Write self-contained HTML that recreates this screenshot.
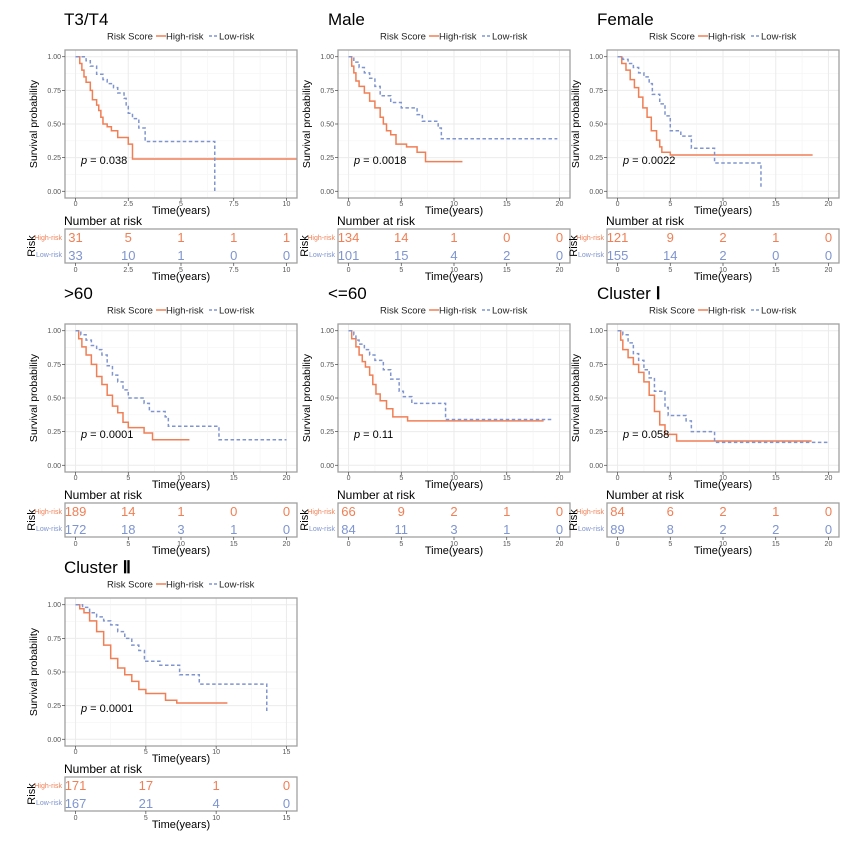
<!DOCTYPE html>
<html><head><meta charset="utf-8"><style>
body{margin:0;background:#fff}
svg{display:block;font-family:"Liberation Sans",sans-serif}
</style></head><body>
<svg id="fig" width="867" height="851" viewBox="0 0 867 851"></svg>
<script>
const panelTitles=["T3/T4","Male","Female",">60","<=60","Cluster \u2160","Cluster \u2161"];
const pValues=["0.038","0.0018","0.0022","0.0001","0.11","0.058","0.0001"];
const xMaxes=[10,20,20,20,20,20,15];
const xTicksList=[[0,2.5,5,7.5,10],[0,5,10,15,20],[0,5,10,15,20],[0,5,10,15,20],[0,5,10,15,20],[0,5,10,15,20],[0,5,10,15]];
const highCurves=[
[[0,1],[0.2,.95],[0.3,.9],[0.4,.85],[0.5,.81],[0.7,.75],[0.8,.68],[1,.64],[1.1,.6],[1.2,.55],[1.3,.5],[1.5,.48],[1.7,.45],[2,.4],[2.5,.35],[2.7,.24],[10.5,.24]],
[[0,1],[0.3,.93],[0.5,.88],[0.7,.82],[1,.78],[1.5,.73],[2,.67],[2.5,.62],[3,.55],[3.3,.5],[3.6,.45],[4,.42],[4.5,.35],[5.5,.33],[6.5,.29],[7.3,.22],[10.8,.22]],
[[0,1],[0.4,.95],[0.8,.9],[1.2,.83],[1.6,.77],[2,.7],[2.4,.62],[2.8,.55],[3.2,.45],[3.7,.38],[4,.33],[4.2,.29],[5,.27],[18.5,.27]],
[[0,1],[0.3,.94],[0.6,.88],[1,.82],[1.5,.75],[2,.66],[2.5,.6],[3,.52],[3.5,.44],[4,.39],[4.5,.32],[5,.28],[6.5,.24],[7.3,.19],[10.8,.19]],
[[0,1],[0.3,.94],[0.7,.88],[1,.82],[1.3,.77],[1.6,.73],[2,.67],[2.3,.6],[2.6,.53],[3,.48],[3.6,.42],[4.2,.36],[5.6,.33],[18.5,.33]],
[[0,1],[0.3,.93],[0.5,.86],[1,.8],[1.5,.75],[2,.69],[2.5,.62],[3,.52],[3.5,.4],[4,.3],[4.5,.23],[5.6,.18],[18.4,.18]],
[[0,1],[0.3,.97],[0.6,.94],[1,.88],[1.5,.8],[2,.7],[2.5,.6],[3,.53],[3.5,.48],[4,.43],[4.5,.37],[5,.34],[6.4,.29],[7.2,.27],[10.8,.27]]
];
const lowCurves=[
[[0,1],[0.5,.97],[0.7,.93],[1,.87],[1.3,.83],[1.5,.8],[1.8,.77],[2,.73],[2.3,.69],[2.4,.63],[2.5,.58],[2.7,.54],[3,.47],[3.3,.37],[6.6,0],[6.6,0]],
[[0,1],[0.5,.96],[1,.92],[1.5,.88],[2,.84],[2.5,.78],[3,.71],[4,.66],[5,.62],[6.5,.57],[7,.52],[8.5,.47],[8.8,.39],[19.8,.39]],
[[0,1],[0.5,.98],[1,.95],[1.5,.92],[2,.88],[2.5,.85],[3,.8],[3.3,.72],[4,.65],[4.5,.56],[5,.45],[6,.41],[7,.32],[9.2,.21],[13.6,.03],[13.6,.03]],
[[0,1],[0.5,.97],[1,.93],[1.5,.89],[2,.86],[2.5,.82],[3,.74],[3.5,.67],[4,.62],[4.5,.56],[5,.5],[6.5,.46],[7,.4],[8.5,.36],[8.8,.29],[13.6,.19],[20,.19]],
[[0,1],[0.5,.97],[0.7,.93],[1,.9],[1.5,.86],[2,.82],[2.5,.78],[3.3,.71],[4,.64],[4.8,.55],[5.2,.51],[6,.46],[9.2,.34],[19.4,.34]],
[[0,1],[0.5,.97],[1,.91],[1.5,.83],[2,.78],[2.5,.71],[3,.65],[3.5,.55],[4.5,.43],[4.8,.37],[6.5,.33],[7,.25],[9.2,.17],[20,.17]],
[[0,1],[0.5,.98],[1,.94],[1.5,.91],[2,.88],[2.5,.85],[3,.8],[3.5,.75],[4,.7],[4.5,.66],[4.9,.58],[6,.55],[7.4,.48],[8.8,.41],[13.6,.21],[13.6,.21]]
];
const highRisk=[[31,5,1,1,1],[134,14,1,0,0],[121,9,2,1,0],[189,14,1,0,0],[66,9,2,1,0],[84,6,2,1,0],[171,17,1,0]];
const lowRisk=[[33,10,1,0,0],[101,15,4,2,0],[155,14,2,0,0],[172,18,3,1,0],[84,11,3,1,0],[89,8,2,2,0],[167,21,4,0]];
const yTicks=[0,0.25,0.5,0.75,1];
const yTickLabels=["0.00","0.25","0.50","0.75","1.00"];

const ORANGE="#F07F55",BLUE="#7F95D0";
const svg=document.getElementById('fig');
const NS="http://www.w3.org/2000/svg";
function mk(tag,attrs,parent,text){const e=document.createElementNS(NS,tag);for(const k in attrs)e.setAttribute(k,attrs[k]);if(text!==undefined)e.textContent=text;parent.appendChild(e);return e;}
const origins=[[65,50],[338,50],[607,50],[65,324],[338,324],[607,324],[65,598]];
const W=232,H=148;
panelTitles.forEach((title,i)=>{
  const [L,T]=origins[i];const xm=xMaxes[i];
  const g=mk('g',{},svg);
  
  
  const xs=v=>L+W*(v+0.05*xm)/(1.1*xm);
  const ys=v=>T+H*(1.05-v)/1.1;
  const tx=i%3===0?L-1:L-10;
  const tt=mk('text',{x:tx,y:T-25,'font-size':17},g);
  const parts=title.split(' ');
  if(parts[0]==='Cluster'){mk('tspan',{},tt,'Cluster ');mk('tspan',{'font-family':'Liberation Serif, serif','font-weight':'bold'},tt,parts[1]);}
  else tt.textContent=title;
  
  const lg=mk('g',{},g);
  
  const ly=T-14;const lx=L+42;
  mk('text',{x:lx,y:ly+3.5,'font-size':9.5,fill:'#222'},lg,'Risk Score');
  mk('line',{x1:lx+49,x2:lx+59,y1:ly,y2:ly,stroke:ORANGE,'stroke-width':1.5},lg);
  mk('text',{x:lx+59,y:ly+3.5,'font-size':9.5,fill:'#222'},lg,'High-risk');
  mk('line',{x1:lx+102,x2:lx+112,y1:ly,y2:ly,stroke:BLUE,'stroke-width':1.5,'stroke-dasharray':'3,2'},lg);
  mk('text',{x:lx+112,y:ly+3.5,'font-size':9.5,fill:'#222'},lg,'Low-risk');
  for(let k=0;k<yTicks.length;k++){mk('line',{x1:L,x2:L+W,y1:ys(yTicks[k]),y2:ys(yTicks[k]),stroke:'#ebebeb','stroke-width':1},g);
    if(k<yTicks.length-1)mk('line',{x1:L,x2:L+W,y1:ys((yTicks[k]+yTicks[k+1])/2),y2:ys((yTicks[k]+yTicks[k+1])/2),stroke:'#f4f4f4','stroke-width':0.6},g);}
  const xt=xTicksList[i];
  xt.forEach((v,k)=>{mk('line',{x1:xs(v),x2:xs(v),y1:T,y2:T+H,stroke:'#ebebeb'},g);
    if(k<xt.length-1)mk('line',{x1:xs((v+xt[k+1])/2),x2:xs((v+xt[k+1])/2),y1:T,y2:T+H,stroke:'#f4f4f4','stroke-width':0.6},g);});
  [[highCurves[i],ORANGE,'none','high-risk-curve'],[lowCurves[i],BLUE,'3.5,2.5','low-risk-curve']].forEach(([c,col,da,nm])=>{
    let d='M'+xs(c[0][0])+','+ys(c[0][1]);
    for(let k=1;k<c.length;k++){d+=' H'+xs(c[k][0])+' V'+ys(c[k][1]);}
    const p=mk('path',{d:d,fill:'none',stroke:col,'stroke-width':1.5,'stroke-dasharray':da},g);
    
  });
  mk('rect',{x:L,y:T,width:W,height:H,fill:'none',stroke:'#a0a0a0','stroke-width':1.3},g);
  yTicks.forEach((v,k)=>{mk('line',{x1:L-3,x2:L,y1:ys(v),y2:ys(v),stroke:'#444','stroke-width':0.7},g);
    mk('text',{x:L-4,y:ys(v)+2.5,'font-size':7,fill:'#555','text-anchor':'end'},g,yTickLabels[k]);});
  xt.forEach(v=>{mk('line',{x1:xs(v),x2:xs(v),y1:T+H,y2:T+H+3,stroke:'#444','stroke-width':0.7},g);
    mk('text',{x:xs(v),y:T+H+8,'font-size':7,fill:'#555','text-anchor':'middle'},g,String(v));});
  const yl=mk('text',{x:0,y:0,'font-size':10.5,'text-anchor':'middle',transform:`translate(${L-28},${T+74}) rotate(-90)`},g,'Survival probability');
  
  const xl=mk('text',{x:L+W/2,y:T+H+16,'font-size':11,'text-anchor':'middle'},g,'Time(years)');
  
  const pv=mk('text',{x:L+16,y:T+114,'font-size':11},g);
  mk('tspan',{'font-style':'italic'},pv,'p');mk('tspan',{},pv,' = '+pValues[i]);
  
  const rt=mk('g',{},g);
  
  mk('text',{x:L-1,y:T+175,'font-size':12},rt,'Number at risk');
  const RT=T+179,RH=34;
  mk('rect',{x:L,y:RT,width:W,height:RH,fill:'none',stroke:'#a0a0a0','stroke-width':1.3},rt);
  mk('text',{x:L-3,y:RT+11,'font-size':7,fill:ORANGE,'text-anchor':'end'},rt,'High-risk');
  mk('text',{x:L-3,y:RT+28,'font-size':7,fill:BLUE,'text-anchor':'end'},rt,'Low-risk');
  mk('text',{x:0,y:0,'font-size':11,'text-anchor':'middle',transform:`translate(${L-30},${RT+17}) rotate(-90)`},rt,'Risk');
  xt.forEach((v,k)=>{
    mk('text',{x:xs(v),y:RT+13,'font-size':13,fill:ORANGE,'text-anchor':'middle'},rt,String(highRisk[i][k]));
    mk('text',{x:xs(v),y:RT+31,'font-size':13,fill:BLUE,'text-anchor':'middle'},rt,String(lowRisk[i][k]));
    mk('line',{x1:xs(v),x2:xs(v),y1:RT+RH,y2:RT+RH+3,stroke:'#444','stroke-width':0.7},rt);
    mk('text',{x:xs(v),y:RT+RH+9,'font-size':7,fill:'#555','text-anchor':'middle'},rt,String(v));
  });
  mk('text',{x:L+W/2,y:RT+RH+17,'font-size':11,'text-anchor':'middle'},rt,'Time(years)');
});
</script>
</body></html>
